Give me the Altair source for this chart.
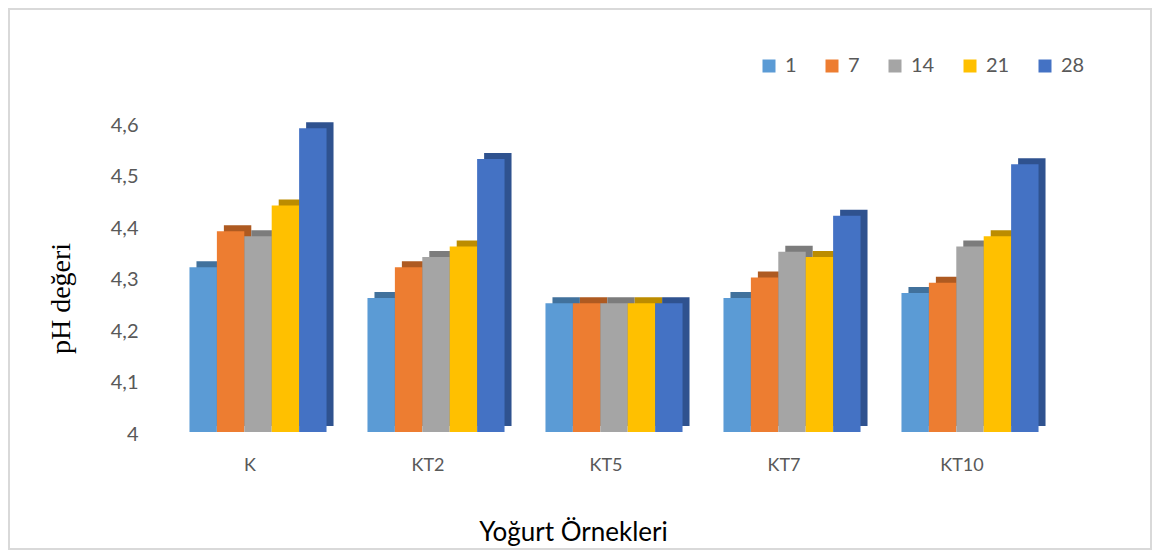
import altair as alt
import pandas as pd

# ---- data ----
categories = ["K", "KT2", "KT5", "KT7", "KT10"]
days = ["1", "7", "14", "21", "28"]
ph_day1 = [4.32, 4.26, 4.25, 4.26, 4.27]
ph_day7 = [4.39, 4.32, 4.25, 4.30, 4.29]
ph_day14 = [4.38, 4.34, 4.25, 4.35, 4.36]
ph_day21 = [4.44, 4.36, 4.25, 4.34, 4.38]
ph_day28 = [4.59, 4.53, 4.25, 4.42, 4.52]
y_ticks = [4.0, 4.1, 4.2, 4.3, 4.4, 4.5, 4.6]

front_colors = ["#5B9BD5", "#ED7D31", "#A5A5A5", "#FFC000", "#4472C4"]
side_colors = ["#41719C", "#AE5A21", "#7C7C7C", "#BC8C00", "#2F528F"]

rows = []
for d, vals in zip(days, [ph_day1, ph_day7, ph_day14, ph_day21, ph_day28]):
    for c, v in zip(categories, vals):
        rows.append({"sample": c, "day": d, "ph": v})
df = pd.DataFrame(rows)

W, H = 890, 309
PAD_IN, PAD_OUT = 0.23, 0.115
STEP = W / (len(categories) - PAD_IN + 2 * PAD_OUT)
BAND = STEP * (1 - PAD_IN)
DEPTH_X, DEPTH_Y = 7, 6

x_enc = alt.X(
    "sample:N",
    sort=categories,
    scale=alt.Scale(paddingInner=PAD_IN, paddingOuter=PAD_OUT),
    axis=alt.Axis(
        title="Yoğurt Örnekleri",
        labelAngle=0,
        labelFont="Lato",
        labelFontSize=18,
        labelColor="#595959",
        labelPadding=24,
        labelOffset=-8,
        ticks=False,
        domain=False,
        titleFont="Lato",
        titleFontSize=26,
        titleFontWeight="normal",
        titleColor="#000000",
        titleX=404,
        titleY=108,
        titleAlign="center",
        titleBaseline="alphabetic",
    ),
)

y_enc = alt.Y(
    "ph:Q",
    scale=alt.Scale(domain=[4.0, 4.6], zero=False, nice=False),
    axis=alt.Axis(
        values=y_ticks,
        labelExpr="datum.value < 4.05 ? '4' : replace(format(datum.value, '.1f'), '.', ',')",
        title="pH değeri",
        titleFont="Liberation Serif",
        titleFontSize=28,
        titleFontWeight="normal",
        titleColor="#000000",
        titleX=-108,
        titleY=175,
        titleAlign="center",
        titleBaseline="middle",
        labelFont="Lato",
        labelFontSize=20,
        labelColor="#595959",
        labelPadding=31,
        labelOffset=2,
        ticks=False,
        domain=False,
        grid=False,
    ),
)

back = alt.Chart(df).mark_bar(yOffset=-DEPTH_Y, y2Offset=-DEPTH_Y).encode(
    x=x_enc,
    xOffset=alt.XOffset("day:N", sort=days,
                        scale=alt.Scale(paddingInner=0, paddingOuter=0,
                                        range=[DEPTH_X, BAND + DEPTH_X])),
    y=y_enc,
    y2=alt.datum(4.0),
    color=alt.Color("day:N", sort=days,
                    scale=alt.Scale(domain=days, range=side_colors), legend=None),
)

front = alt.Chart(df).mark_bar().encode(
    x=x_enc,
    xOffset=alt.XOffset("day:N", sort=days,
                        scale=alt.Scale(paddingInner=0, paddingOuter=0,
                                        range=[0, BAND])),
    y=y_enc,
    y2=alt.datum(4.0),
    color=alt.Color(
        "day:N",
        sort=days,
        scale=alt.Scale(domain=days, range=front_colors),
        legend=alt.Legend(
            title=None,
            orient="none",
            legendX=590,
            legendY=-67,
            direction="horizontal",
            symbolType="square",
            symbolSize=169,
            symbolStrokeWidth=0,
            labelFont="Lato",
            labelFontSize=20,
            labelColor="#595959",
            labelOffset=6,
            columnPadding=25,
            padding=0,
        ),
    ),
)

frame = alt.Chart(pd.DataFrame({"a": [0]})).mark_rect(
    fillOpacity=0, stroke="#d9d9d9", strokeWidth=2
).encode(
    x=alt.value(-160), x2=alt.value(982), y=alt.value(-114), y2=alt.value(426)
)

chart = (
    alt.layer(frame, back, front)
    .resolve_scale(color="independent", xOffset="independent")
    .properties(
        width=W,
        height=H,
        padding={"left": 161, "top": 115, "right": 94, "bottom": 118},
        autosize=alt.AutoSizeParams(type="none"),
        background="white",
    )
    .configure_view(stroke=None)
)

chart.save("out.html", embed_options={"renderer": "svg", "actions": False})
